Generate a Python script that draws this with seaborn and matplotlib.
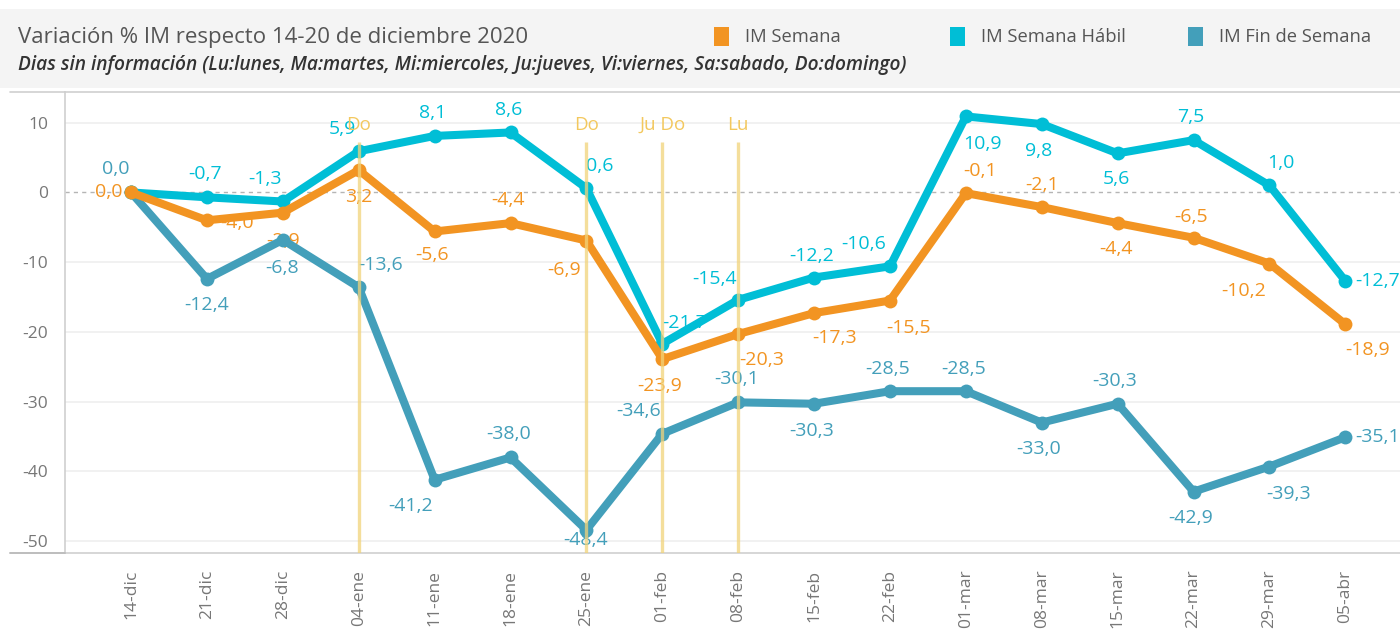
import numpy as np
import pandas as pd
import matplotlib
matplotlib.use("Agg")
import matplotlib.pyplot as plt
from matplotlib.patches import Rectangle
from matplotlib.lines import Line2D
import seaborn as sns

# Data
weeks = ['14-dic', '21-dic', '28-dic', '04-ene', '11-ene', '18-ene', '25-ene', '01-feb',
         '08-feb', '15-feb', '22-feb', '01-mar', '08-mar', '15-mar', '22-mar', '29-mar', '05-abr']
im_semana = [0.0, -4.0, -2.9, 3.2, -5.6, -4.4, -6.9, -23.9, -20.3, -17.3, -15.5,
             -0.1, -2.1, -4.4, -6.5, -10.2, -18.9]
im_habil = [0.0, -0.7, -1.3, 5.9, 8.1, 8.6, 0.6, -21.7, -15.4, -12.2, -10.6,
            10.9, 9.8, 5.6, 7.5, 1.0, -12.7]
im_finde = [0.0, -12.4, -6.8, -13.6, -41.2, -38.0, -48.4, -34.6, -30.1, -30.3, -28.5,
            -28.5, -33.0, -30.3, -42.9, -39.3, -35.1]
series_names = ['IM Semana', 'IM Semana Hábil', 'IM Fin de Semana']
event_weeks = ['04-ene', '25-ene', '01-feb', '08-feb']
event_labels = ['Do', 'Do', 'Ju Do', 'Lu']
y_ticks = [10, 0, -10, -20, -30, -40, -50]

colors = {'IM Semana': '#f29422', 'IM Semana Hábil': '#00bed6', 'IM Fin de Semana': '#439fba'}

# label offsets in pixels (dx, dy downward, alignment)
C, R, L = 'center', 'right', 'left'
off_semana = [(-9, 0, R), (30, 3, C), (0, 28, C), (0, 27, C), (-3, 24, C), (-3, -23, C),
              (-22, 29, C), (-3, 27, C), (23, 26, C), (20, 25, C), (19, 27, C), (14, -22, C),
              (0, -22, C), (-2, 26, C), (-3, -21, C), (-26, 27, C), (22, 26, C)]
off_habil = [None, (-2, -23, C), (-18, -22, C), (-16, -22, C), (-2, -23, C), (-2, -22, C),
             (13, -22, C), (22, -21, C), (-24, -21, C), (-2, -22, C), (-26, -22, C), (17, 28, C),
             (-3, 27, C), (-1, 26, C), (-3, -23, C), (11, -22, C), (10, 0, L)]
off_finde = [(-15, -23, C), (0, 26, C), (-1, 28, C), (22, -22, C), (-24, 26, C), (-2, -23, C),
             (-1, 10, C), (-24, -23, C), (-2, -23, C), (-2, 27, C), (-2, -22, C), (-2, -22, C),
             (-3, 26, C), (-3, -23, C), (-3, 26, C), (19, 27, C), (10, 0, L)]

df = pd.DataFrame({
    'x': list(range(len(weeks))) * 3,
    'valor': im_semana + im_habil + im_finde,
    'serie': [series_names[0]] * len(weeks) + [series_names[1]] * len(weeks) + [series_names[2]] * len(weeks),
})

sns.set_theme(style="white")
plt.rcParams['font.family'] = ['Open Sans', 'DejaVu Sans']
plt.rcParams['axes.unicode_minus'] = False

W, H = 1400, 634
fig = plt.figure(figsize=(W / 100, H / 100), dpi=100)
ax = fig.add_axes([65 / W, 1 - 553 / H, 1 - 65 / W, (553 - 92) / H])

# header band
fig.patches.append(Rectangle((0, 1 - 88 / H), 1, 79 / H, transform=fig.transFigure,
                             facecolor='#f4f4f4', edgecolor='none', zorder=0))

# grid + zero line
for t in y_ticks:
    if t != 0:
        ax.axhline(t, color='#efefef', lw=1.2, zorder=0)
ax.axhline(0, color='#b5b5b5', lw=1, ls=(0, (3, 3)), zorder=1)

# lines: draw fin de semana first, semana on top
order = ['IM Fin de Semana', 'IM Semana Hábil', 'IM Semana']
for i, name in enumerate(order):
    sns.lineplot(data=df[df['serie'] == name], x='x', y='valor', color=colors[name],
                 marker='o', markersize=10, markeredgewidth=0, linewidth=5.8,
                 ax=ax, zorder=3 + i, legend=False)

# data labels
for name, vals, offs in [('IM Semana', im_semana, off_semana),
                         ('IM Semana Hábil', im_habil, off_habil),
                         ('IM Fin de Semana', im_finde, off_finde)]:
    for i, (v, o) in enumerate(zip(vals, offs)):
        if o is None:
            continue
        dx, dy, ha = o
        ax.annotate(f"{v:.1f}".replace('.', ','), (i, v), xytext=(dx, -dy),
                    textcoords='offset pixels', ha=ha, va='center',
                    fontsize=14, color=colors[name], zorder=2)

# event lines
for w, lab in zip(event_weeks, event_labels):
    xi = weeks.index(w)
    ax.vlines(xi, -60, 7.3, color='#f1d37a', lw=2.4, alpha=0.75, zorder=8)
    ax.text(xi, 9.7, lab, ha='center', va='center', fontsize=13.5, color='#f3c85e', zorder=8)

ax.set_xlim(-0.87, 16.72)
ax.set_ylim(-51.7, 14.4)
ax.set_xticks(range(len(weeks)))
ax.set_xticklabels(weeks, rotation=90, fontsize=12.5, color='#777777')
ax.set_yticks(y_ticks)
ax.set_yticklabels([str(t) for t in y_ticks], fontsize=12.5, color='#777777')
ax.set_xlabel('')
ax.set_ylabel('')
ax.tick_params(axis='x', length=6, color='#e4e4e4', pad=6)
ax.tick_params(axis='y', length=0, pad=12)
ax.spines['right'].set_visible(False)
for s in ['top', 'left', 'bottom']:
    ax.spines[s].set_color('#cfcfcf')
    ax.spines[s].set_linewidth(1.2)

# extend top and bottom borders to the left
fig.lines.append(Line2D([10 / W, 65 / W], [1 - 92 / H] * 2, transform=fig.transFigure,
                        color='#cfcfcf', lw=1.2))
fig.lines.append(Line2D([10 / W, 65 / W], [1 - 553 / H] * 2, transform=fig.transFigure,
                        color='#bdbdbd', lw=1.4))

# titles
fig.text(18 / W, 1 - 37 / H, 'Variación % IM respecto 14-20 de diciembre 2020',
         fontsize=16, color='#555555', ha='left', va='center')
fig.text(18 / W, 1 - 65 / H,
         'Dias sin información (Lu:lunes, Ma:martes, Mi:miercoles, Ju:jueves, Vi:viernes, Sa:sabado, Do:domingo)',
         fontsize=13.8, color='#333333', ha='left', va='center', style='italic', weight='semibold')

# legend
for k, name in enumerate(series_names):
    x0 = [714, 950, 1188][k]
    fig.patches.append(Rectangle((x0 / W, 1 - 46 / H), 15 / W, 19 / H, transform=fig.transFigure,
                                 facecolor=colors[name], edgecolor='none'))
    fig.text((x0 + 31) / W, 1 - 37 / H, name, fontsize=13.2, color='#555555',
             ha='left', va='center')

fig.savefig('out.png', dpi=100)
